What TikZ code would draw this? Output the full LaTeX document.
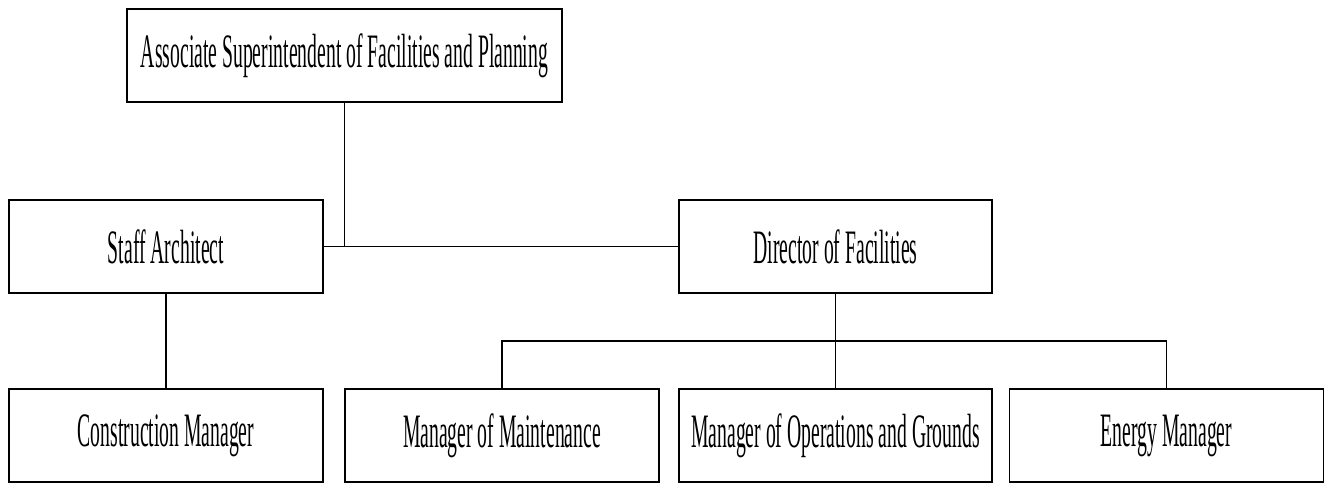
\documentclass[tikz,border=0pt]{standalone}
\usepackage{fontspec}
\setmainfont[FakeStretch=0.41]{Liberation Serif}
\begin{document}
\begin{tikzpicture}[x=1pt,y=-1pt,
  box/.style={draw, line width=1.8pt, rectangle, inner sep=0pt, minimum height=93pt, font=\fontsize{48}{54}\selectfont},
  link/.style={line width=1.8pt}]
\useasboundingbox (0,0) rectangle (1330,483);
\node[box, minimum width=435pt] (top) at (344.5,55.5) {Associate Superintendent of Facilities and Planning};
\node[box, minimum width=314pt] (staff) at (166,246.5) {Staff Architect};
\node[box, minimum width=313pt] (dir) at (835.5,246.5) {Director of Facilities};
\node[box, minimum width=314pt] (con) at (166,435.5) {Construction Manager};
\node[box, minimum width=314pt] (maint) at (502,435.5) {Manager of Maintenance};
\node[box, minimum width=313pt] (ops) at (835.5,435.5) {Manager of Operations and Grounds};
\node[box, minimum width=314pt] (ener) at (1166.5,435.5) {Energy Manager};
\coordinate (bus) at (0,341);
\draw[link] (staff.east) -- (dir.west);
\draw[link] (top.south) -- (top.south |- staff.east);
\draw[link] (staff.south) -- (con.north);
\draw[link] (dir.south) -- (ops.north);
\draw[link] (maint.north) -- (maint.north |- bus) -- (ener.north |- bus) -- (ener.north);
\end{tikzpicture}
\end{document}
